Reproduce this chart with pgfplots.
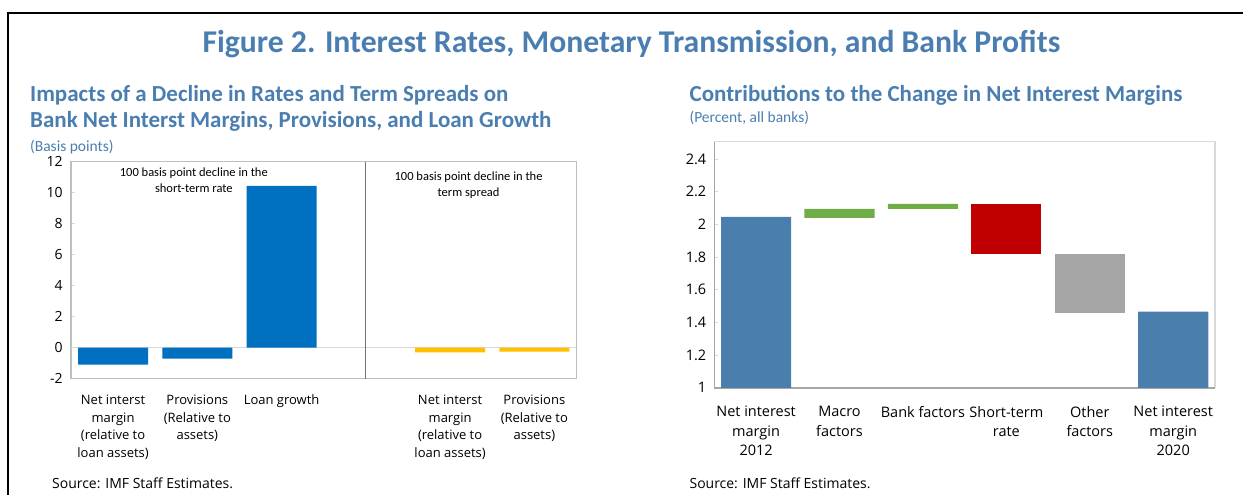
\documentclass[border=0pt]{standalone}
\usepackage{pgfplots}
\pgfplotsset{compat=1.18}
\usepackage{fontspec}
\setmainfont{Open Sans}
\newfontfamily\calibri{Carlito}
\definecolor{imfTitle}{HTML}{4A7EB0}
\definecolor{barBlue}{HTML}{0070C0}
\definecolor{barGold}{HTML}{FFC000}
\definecolor{nimBlue}{HTML}{4A7EAD}
\definecolor{posGreen}{HTML}{70AD47}
\definecolor{negRed}{HTML}{C00000}
\definecolor{otherGray}{HTML}{A5A5A5}
\definecolor{frameGray}{HTML}{BFBFBF}
\definecolor{lineGray}{HTML}{D9D9D9}
\definecolor{axisGray}{HTML}{A6A6A6}

\begin{document}
\begin{tikzpicture}[x=1pt,y=1pt]
\path (0,0) rectangle (1244,495);
\draw[line width=2.2pt] (8,0) -- (8,482) -- (1244,482);
\node[anchor=base,inner sep=0,text=imfTitle,font=\calibri\bfseries\fontsize{31.7}{32}\selectfont] at (632,442)
  {Figure 2. Interest Rates, Monetary Transmission, and Bank Profits};

% titles, left panel
\node[anchor=base west,inner sep=0,text=imfTitle,font=\calibri\bfseries\fontsize{23}{26}\selectfont] at (30,393)
  {Impacts of a Decline in Rates and Term Spreads on};
\node[anchor=base west,inner sep=0,text=imfTitle,font=\calibri\bfseries\fontsize{23}{26}\selectfont] at (30,367)
  {Bank Net Interst Margins, Provisions, and Loan Growth};
\node[anchor=base west,inner sep=0,text=imfTitle,font=\calibri\fontsize{15.5}{18}\selectfont] at (30,343)
  {(Basis points)};
% titles, right panel
\node[anchor=base west,inner sep=0,text=imfTitle,font=\calibri\bfseries\fontsize{23}{26}\selectfont] at (690,393)
  {Contributions to the Change in Net Interest Margins};
\node[anchor=base west,inner sep=0,text=imfTitle,font=\calibri\fontsize{15.5}{18}\selectfont] at (690,372)
  {(Percent, all banks)};
% sources
\node[anchor=base west,inner sep=0,font=\fontsize{14}{16}\selectfont] at (52,6) {Source: IMF Staff Estimates.};
\node[anchor=base west,inner sep=0,font=\fontsize{14}{16}\selectfont] at (690,6) {Source: IMF Staff Estimates.};

% left panel: impacts in basis points
\begin{axis}[at={(71pt,116pt)},anchor=south west,scale only axis,width=506pt,height=217pt,
    xmin=-0.5,xmax=5.5,ymin=-2,ymax=12,ytick={-2,0,...,12},
    xtick={0,1,2,4,5},
    xticklabels={{Net interst\\margin\\(relative to\\loan assets)},{Provisions\\(Relative to\\assets)},{Loan growth},
                 {Net interst\\margin\\(relative to\\loan assets)},{Provisions\\(Relative to\\assets)}},
    xticklabel style={align=center,inner sep=0pt,yshift=-12pt,font=\fontsize{13}{17.7}\selectfont},
    yticklabel style={inner sep=0pt,xshift=-8pt,font=\fontsize{14}{16}\selectfont},
    /pgf/number format/assume math mode=true,
    axis line style={draw=frameGray,line width=1.2pt},
    ytick pos=left,xtick pos=bottom,
    x tick style={draw=none},y tick style={draw=lineGray,line width=0.8pt},
    major tick length=4pt,
    ybar,bar width=0.83,bar shift=0pt,clip mode=individual]
\draw[lineGray,line width=1.5pt] (axis cs:-0.5,0) -- (axis cs:5.5,0);
\draw[black!55,line width=0.9pt] (axis cs:3,-2) -- (axis cs:3,12);
\addplot[fill=barBlue,draw=none] coordinates {(0,-1.1) (1,-0.7) (2,10.45)};
\addplot[fill=barGold,draw=none] coordinates {(4,-0.3) (5,-0.25)};
\end{axis}
\node[anchor=base,inner sep=0,font=\calibri\fontsize{12.5}{14}\selectfont] at (194,318) {100 basis point decline in the};
\node[anchor=base,inner sep=0,font=\calibri\fontsize{12.5}{14}\selectfont] at (194,302) {short-term rate};
\node[anchor=base,inner sep=0,font=\calibri\fontsize{12.5}{14}\selectfont] at (469,314) {100 basis point decline in the};
\node[anchor=base,inner sep=0,font=\calibri\fontsize{12.5}{14}\selectfont] at (469,298) {term spread};

% right panel: waterfall of net interest margin contributions
\begin{axis}[at={(715pt,107pt)},anchor=south west,scale only axis,width=501pt,height=246pt,
    xmin=-0.5,xmax=5.5,ymin=1,ymax=2.505,ytick={1,1.2,1.4,1.6,1.8,2,2.2,2.4},
    xtick={0,...,5},
    xticklabels={{Net interest\\margin\\2012},{Macro\\factors},{Bank factors},{Short-term\\rate},{Other\\factors},{Net interest\\margin\\2020}},
    xticklabel style={align=center,inner sep=0pt,yshift=-18.5pt,font=\fontsize{14.5}{19.5}\selectfont},
    yticklabel style={inner sep=0pt,xshift=-8pt,font=\fontsize{14.5}{16}\selectfont},
    /pgf/number format/assume math mode=true,
    extra x ticks={0.5,1.5,2.5,3.5,4.5},extra x tick labels={},
    extra x tick style={major tick length=5pt,tick style={draw=axisGray,line width=0.9pt}},
    axis line style={draw=lineGray,line width=1.2pt},
    ytick pos=left,xtick pos=bottom,
    x tick style={draw=none},y tick style={draw=lineGray,line width=0.8pt},
    major tick length=4pt,
    ybar stacked,bar width=0.84,clip mode=individual]
\addplot[fill=none,draw=none] coordinates {(0,0) (1,2.04) (2,2.095) (3,1.82) (4,1.46) (5,0)};
\addplot[fill=nimBlue,draw=none] coordinates {(0,2.046) (1,0) (2,0) (3,0) (4,0) (5,1.465)};
\addplot[fill=posGreen,draw=none] coordinates {(0,0) (1,0.055) (2,0.03) (3,0) (4,0) (5,0)};
\addplot[fill=negRed,draw=none] coordinates {(0,0) (1,0) (2,0) (3,0.305) (4,0) (5,0)};
\addplot[fill=otherGray,draw=none] coordinates {(0,0) (1,0) (2,0) (3,0) (4,0.36) (5,0)};
\draw[axisGray,line width=1pt] (rel axis cs:0,0) -- (rel axis cs:0,1);
\draw[axisGray,line width=1.8pt] (rel axis cs:0,0) -- (rel axis cs:1,0);
\end{axis}
\end{tikzpicture}
\end{document}
